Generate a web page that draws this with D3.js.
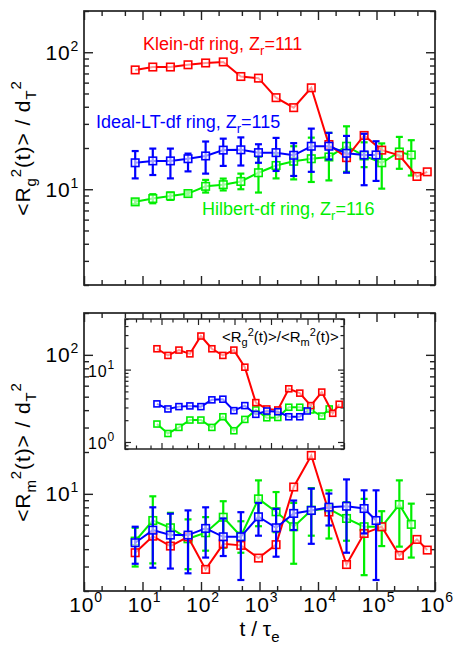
<!DOCTYPE html>
<html><head><meta charset="utf-8">
<script src="https://cdn.jsdelivr.net/npm/d3@7"></script>
<style>
html,body{margin:0;padding:0;background:#fff;}
svg{display:block;font-family:"Liberation Sans",Arial,Helvetica,sans-serif;}
</style></head>
<body>
<svg id="chart" width="457" height="653"></svg>
<script>
// ---------- data ----------
const tRed   = [7.5,15,30,60,120,240,480,960,1920,3840,7680,15360,30720,61440,122880,245760,491520,737280];
const tBlue  = [7.5,15,30,60,120,240,480,960,1920,3840,7680,15360,30720,61440,98304];
const tGreen = [7.5,15,30,60,120,240,480,960,1920,3840,7680,15360,30720,61440,122880,245760,393216];

// top panel <Rg^2>/dT^2
const rgRed   = [74.3,78,78,81,83.5,85,66.5,64.7,46.6,39.4,55,21.2,17,24.7,19.3,17.7,12.4,13.4];
const rgBlue  = [15.6,16.1,16.1,16.7,17.5,19.3,19.4,18.5,18.5,17.7,20.6,20.6,18.3,17.8,17.8];
const rgBlueHi= [19.0,19.8,19.8,18.2,22.3,23.4,23.9,21.3,23.7,21.7,27.7,25.8,24.5,25.4,22.4];
const rgBlueLo= [12.0,12.7,12.0,13.5,13.0,14.8,14.9,15.6,13.6,12.5,13.4,16.5,13.2,10.7,11.5];
const rgGreen  = [8.09,8.55,8.94,9.3,10.5,10.8,11.4,13.2,14.9,16.0,16.7,17.2,20.6,17.5,15.6,18.7,17.8];
const rgGreenHi= [8.4,9.2,9.45,9.6,11.7,11.96,13.0,17.3,18.2,20.6,23.8,25.8,28.8,22.0,21.6,24.1,22.8];
const rgGreenLo= [7.8,7.9,8.36,9.0,9.46,9.8,10.0,9.46,12.0,11.8,11.3,11.6,13.4,14.5,10.1,14.1,12.6];

// bottom panel <Rm^2>/dT^2
const rmRed   = [3.77,4.96,4.21,4.9,2.86,4.37,4.26,3.45,4.31,11.2,18.9,7.4,3.1,5.19,5.8,3.61,4.7,3.94];
const rmBlue  = [4.45,5.48,5.05,5.05,5.64,4.91,4.91,6.84,5.7,7.23,7.59,8.02,8.15,7.84,6.43];
const rmBlueHi= [5.8,8.0,7.2,7.6,8.0,6.65,7.38,8.6,7.8,8.95,10.9,10.05,12.7,10.6,10.6];
const rmBlueLo= [3.14,2.94,2.9,2.68,3.48,3.57,2.4,5.0,3.53,5.49,4.37,5.92,3.77,5.19,2.4];
const rmGreen  = [4.57,6.43,5.7,4.75,5.25,6.79,4.96,9.2,7.43,5.8,7.63,7.8,6.65,5.8,5.8,8.38,6.03];
const rmGreenHi= [5.7,9.6,7.3,6.55,6.8,8.85,6.35,12.5,10.3,8.6,11.0,10.6,8.7,9.2,7.5,12.5,8.5];
const rmGreenLo= [3.0,3.16,4.3,2.87,3.9,4.09,3.77,5.85,5.3,3.14,5.0,4.77,4.6,2.6,4.21,4.17,3.48];

// inset ratio <Rg^2>/<Rm^2>
const ratioRed   = [19.4,15.7,18.6,16.5,29.1,19.4,15.7,18.6,10.8,3.5,2.86,2.77,5.43,4.73,3.18,4.89,2.49,3.32];
const ratioBlue  = [3.36,2.86,3.08,3.15,3.08,3.82,3.9,2.71,3.18,2.41,2.68,2.62,2.23,2.23,2.68];
const ratioGreen = [1.77,1.31,1.59,2.01,2.01,1.59,2.23,1.43,2.05,2.77,2.16,2.18,3.02,3.02,2.77,2.28,2.86];

const xTickExps = [0,1,2,3,4,5,6];
const yTickExpsMain = [1,2];
const yTickExpsInset = [0,1];
const labels = {
  klein: ["Klein-df ring, Z","r","=111"],
  ideal: ["Ideal-LT-df ring, Z","r","=115"],
  hilbert: ["Hilbert-df ring, Z","r","=116"]
};

// ---------- style ----------
const RED="#ff0000", BLUE="#0000ff", GREEN="#00ee00", AX="#222";
const svg = d3.select("#chart");
const L=84, R=435;
const panels = [{top:11,bottom:285},{top:313,bottom:591}];
const inset = {left:125,right:344,top:319,bottom:449};

function minorVals(dom, mult){
  const out=[];
  const e0=Math.floor(Math.log10(dom[0]))-1, e1=Math.ceil(Math.log10(dom[1]));
  for(let e=e0;e<=e1;e++) for(const m of mult){const v=m*10**e; if(v>=dom[0]*0.999&&v<=dom[1]*1.001) out.push(v);}
  return out;
}

function frame(g, x, y, majLen, minLen, yMajor, sw){
  const [x0,x1]=x.range(), [y1,y0]=y.range();
  const w=x1-x0, h=y1-y0;
  const xMaj = xTickExps.map(e=>10**e);
  const xMin = minorVals(x.domain(),[2,5]);
  const yMin = minorVals(y.domain(),[2,3,4,5,6,7,8,9]);
  const defs = [
    [d3.axisBottom(x).tickValues(xMaj).tickSize(-majLen), `translate(0,${y1})`],
    [d3.axisBottom(x).tickValues(xMin).tickSize(-minLen), `translate(0,${y1})`],
    [d3.axisTop(x).tickValues(xMaj).tickSize(-majLen), `translate(0,${y0})`],
    [d3.axisTop(x).tickValues(xMin).tickSize(-minLen), `translate(0,${y0})`],
    [d3.axisLeft(y).tickValues(yMajor).tickSize(-majLen), `translate(${x0},0)`],
    [d3.axisLeft(y).tickValues(yMin).tickSize(-minLen), `translate(${x0},0)`],
    [d3.axisRight(y).tickValues(yMajor).tickSize(-majLen), `translate(${x1},0)`],
    [d3.axisRight(y).tickValues(yMin).tickSize(-minLen), `translate(${x1},0)`]
  ];
  for(const [ax,tr] of defs){
    const a=g.append("g").attr("transform",tr).call(ax.tickFormat(""));
    a.select(".domain").remove();
    a.selectAll("line").attr("stroke",AX).attr("stroke-width",sw);
  }
  g.append("rect").attr("x",x0).attr("y",y0).attr("width",w).attr("height",h)
    .attr("fill","none").attr("stroke",AX).attr("stroke-width",sw+0.3);
}

function series(g, x, y, ts, vs, color, ms, lo, hi){
  if(lo){
    const eb=g.append("g").attr("stroke",color).attr("stroke-width",2.2);
    ts.forEach((t,i)=>{
      const cx=x(t), a=y(hi[i]), b=y(lo[i]);
      eb.append("line").attr("x1",cx).attr("x2",cx).attr("y1",a).attr("y2",b);
      eb.append("line").attr("x1",cx-3.5).attr("x2",cx+3.5).attr("y1",a).attr("y2",a);
      eb.append("line").attr("x1",cx-3.5).attr("x2",cx+3.5).attr("y1",b).attr("y2",b);
    });
  }
  const line=d3.line().x((d,i)=>x(ts[i])).y(d=>y(d));
  g.append("path").datum(vs).attr("d",line).attr("fill","none").attr("stroke",color).attr("stroke-width",2);
  g.append("g").selectAll("rect").data(vs).join("rect")
    .attr("x",(d,i)=>x(ts[i])-ms/2).attr("y",d=>y(d)-ms/2).attr("width",ms).attr("height",ms)
    .attr("fill","rgba(255,255,255,0.6)").attr("stroke",color).attr("stroke-width",1.6);
}

function powLabel(g, xpos, ypos, exp, anchor, fs, sfs, rise){
  const t=g.append("text").attr("x",xpos).attr("y",ypos).attr("text-anchor",anchor)
    .attr("font-size",fs).attr("fill","#000").attr("letter-spacing",0.8);
  t.append("tspan").text("10");
  t.append("tspan").attr("dy",-rise).attr("font-size",sfs).text(exp);
}

function annot(g, xpos, ypos, parts, color){
  const t=g.append("text").attr("x",xpos).attr("y",ypos).attr("font-size",18).attr("fill",color);
  t.append("tspan").text(parts[0]);
  t.append("tspan").attr("dy",5).attr("font-size",13).text(parts[1]);
  t.append("tspan").attr("dy",-5).text(parts[2]);
}

function yLabel(g, cx, cy, sub){
  const t=g.append("text").attr("transform",`translate(${cx},${cy}) rotate(-90)`)
    .attr("text-anchor","middle").attr("font-size",21).attr("fill","#000").attr("letter-spacing",0.9);
  t.append("tspan").text("<R");
  t.append("tspan").attr("dy",6).attr("font-size",15).text(sub);
  t.append("tspan").attr("dy",-15).attr("font-size",15).text("2");
  t.append("tspan").attr("dy",9).text("(t)> / d");
  t.append("tspan").attr("dy",6).attr("font-size",15).text("T");
  t.append("tspan").attr("dy",-15).attr("font-size",15).text("2");
}

const x = d3.scaleLog().domain([1,1e6]).range([L,R]);

// ---------- top panel ----------
const yTop = d3.scaleLog().domain([2,200]).range([panels[0].bottom,panels[0].top]);
const gTop = svg.append("g");
frame(gTop, x, yTop, 9, 5, yTickExpsMain.map(e=>10**e), 1.4);
series(gTop, x, yTop, tGreen, rgGreen, GREEN, 7.5, rgGreenLo, rgGreenHi);
series(gTop, x, yTop, tRed, rgRed, RED, 7.5);
series(gTop, x, yTop, tBlue, rgBlue, BLUE, 7.5, rgBlueLo, rgBlueHi);
yTickExpsMain.forEach(e=>powLabel(gTop, 79, yTop(10**e)+7.5, e, "end", 21, 14, 9));
annot(gTop, 143, 50, labels.klein, RED);
annot(gTop, 96, 128, labels.ideal, BLUE);
annot(gTop, 202, 215, labels.hilbert, GREEN);
yLabel(gTop, 30, 148, "g");

// ---------- bottom panel ----------
const yBot = d3.scaleLog().domain([2,200]).range([panels[1].bottom,panels[1].top]);
const gBot = svg.append("g");
frame(gBot, x, yBot, 9, 5, yTickExpsMain.map(e=>10**e), 1.4);
series(gBot, x, yBot, tGreen, rmGreen, GREEN, 7.5, rmGreenLo, rmGreenHi);
series(gBot, x, yBot, tRed, rmRed, RED, 7.5);
series(gBot, x, yBot, tBlue, rmBlue, BLUE, 7.5, rmBlueLo, rmBlueHi);
yTickExpsMain.forEach(e=>powLabel(gBot, 79, yBot(10**e)+7.5, e, "end", 21, 14, 9));
xTickExps.forEach(e=>powLabel(gBot, x(10**e)+2, 612, e, "middle", 21, 14, 10));
yLabel(gBot, 30, 452, "m");
const xl=gBot.append("text").attr("x",(L+R)/2).attr("y",636).attr("text-anchor","middle")
  .attr("font-size",21).attr("fill","#000");
xl.append("tspan").text("t / \u03c4");
xl.append("tspan").attr("dy",6).attr("font-size",15).text("e");

// ---------- inset ----------
const xIn = d3.scaleLog().domain([1,1e6]).range([inset.left,inset.right]);
const yIn = d3.scaleLog().domain([0.8,50]).range([inset.bottom,inset.top]);
const gIn = svg.append("g");
gIn.append("rect").attr("x",inset.left).attr("y",inset.top).attr("width",inset.right-inset.left)
  .attr("height",inset.bottom-inset.top).attr("fill","#fff");
frame(gIn, xIn, yIn, 6, 3.5, yTickExpsInset.map(e=>10**e), 1.2);
series(gIn, xIn, yIn, tGreen, ratioGreen, GREEN, 6);
series(gIn, xIn, yIn, tRed, ratioRed, RED, 6);
series(gIn, xIn, yIn, tBlue, ratioBlue, BLUE, 6);
yTickExpsInset.forEach(e=>powLabel(gIn, 115, yIn(10**e)+7.5, e, "end", 16, 12, 8));
const it=gIn.append("text").attr("x",222).attr("y",342).attr("font-size",15).attr("fill","#000");
it.append("tspan").text("<R");
it.append("tspan").attr("dy",4).attr("font-size",11).text("g");
it.append("tspan").attr("dy",-10).attr("font-size",11).text("2");
it.append("tspan").attr("dy",6).text("(t)>/<R");
it.append("tspan").attr("dy",4).attr("font-size",11).text("m");
it.append("tspan").attr("dy",-10).attr("font-size",11).text("2");
it.append("tspan").attr("dy",6).text("(t)>");
</script>
</body></html>
